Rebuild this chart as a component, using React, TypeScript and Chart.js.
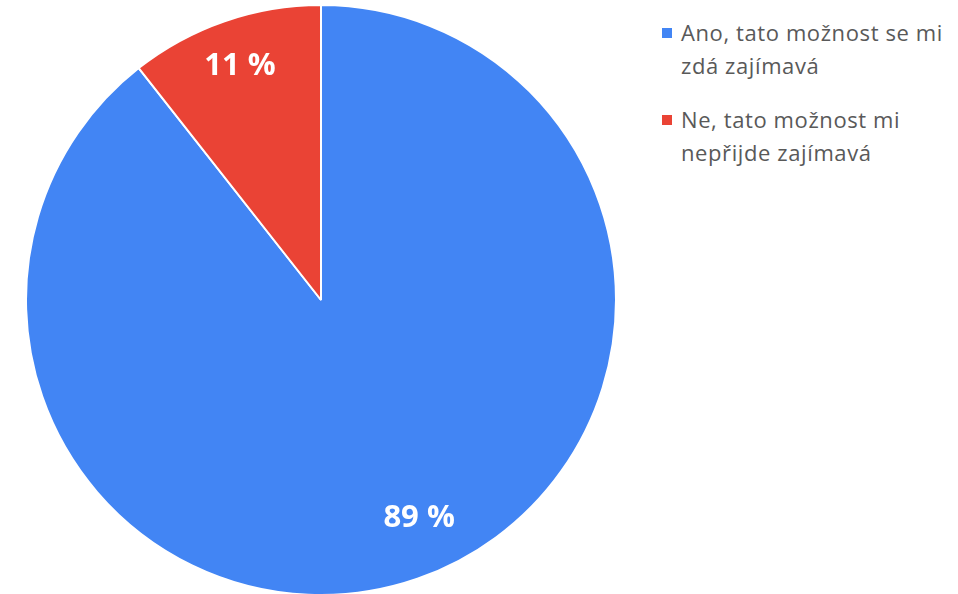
import React, { useEffect, useRef } from "react";
import { Chart, registerables } from "chart.js";

Chart.register(...registerables);

const categories = ["Ano, tato možnost se mi zdá zajímavá", "Ne, tato možnost mi nepřijde zajímavá"];
const values = [89.4, 10.6];
const valueLabels = ["89 %", "11 %"];
const colors = ["#4285F4", "#EA4335"];

const labelPlugin = {
  id: "sliceLabels",
  afterDatasetsDraw(chart: any) {
    const ctx = chart.ctx;
    const meta = chart.getDatasetMeta(0);
    ctx.save();
    ctx.fillStyle = "#ffffff";
    ctx.font = "bold 31px 'Open Sans', sans-serif";
    ctx.textAlign = "center";
    ctx.textBaseline = "middle";
    meta.data.forEach((arc: any, i: number) => {
      const { x, y, startAngle, endAngle, outerRadius } = arc.getProps(
        ["x", "y", "startAngle", "endAngle", "outerRadius"],
        true
      );
      const mid = (startAngle + endAngle) / 2 - (i === 0 ? 0.09 : 0);
      const r = outerRadius * (i === 0 ? 0.81 : 0.84);
      ctx.fillText(valueLabels[i], x + Math.cos(mid) * r, y + Math.sin(mid) * r);
    });
    ctx.restore();
  },
};

export default function App() {
  const ref = useRef<HTMLCanvasElement>(null);
  useEffect(() => {
    if (!ref.current) return;
    const chart = new Chart(ref.current, {
      type: "pie",
      data: {
        labels: categories,
        datasets: [
          {
            data: values,
            backgroundColor: colors,
            borderColor: "#ffffff",
            borderWidth: 2,
          },
        ],
      },
      options: {
        responsive: false,
        animation: false,
        rotation: 0,
        circumference: 360,
        layout: { padding: 0 },
        plugins: {
          legend: { display: false },
          tooltip: { enabled: false },
        },
      },
      plugins: [labelPlugin],
    });
    return () => chart.destroy();
  }, []);

  return (
    <div
      style={{
        position: "fixed",
        left: 0,
        top: 0,
        width: 958,
        height: 594,
        background: "#ffffff",
        fontFamily: "'Open Sans', sans-serif",
      }}
    >
      <canvas
        ref={ref}
        width={592}
        height={592}
        style={{ position: "absolute", left: 25, top: 4, width: 592, height: 592 }}
      />
      <div style={{ position: "absolute", left: 662, top: 16, width: 294 }}>
        {categories.map((c, i) => (
          <div key={c} style={{ display: "flex", alignItems: "flex-start", marginBottom: 21 }}>
            <div
              style={{
                width: 10,
                height: 10,
                background: colors[i],
                marginTop: 12,
                marginRight: 9,
                flex: "none",
              }}
            />
            <div
              style={{
                fontSize: 22,
                lineHeight: "33px",
                letterSpacing: "0.6px",
                color: "#595959",
                width: 280,
              }}
            >
              {c}
            </div>
          </div>
        ))}
      </div>
    </div>
  );
}
